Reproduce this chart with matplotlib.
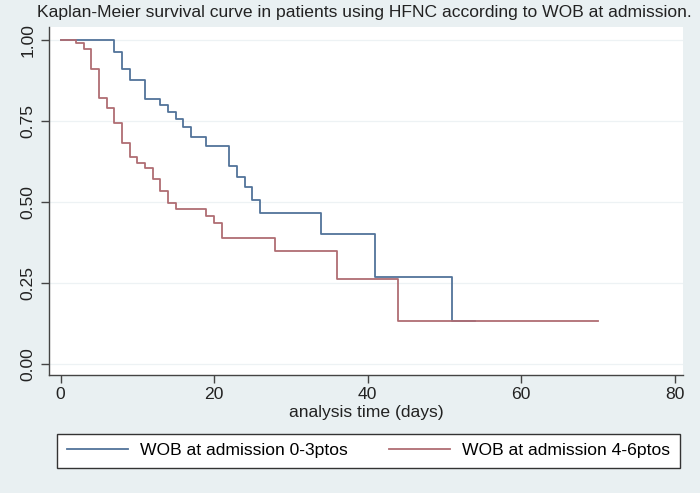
import matplotlib
matplotlib.use('Agg')
import matplotlib.pyplot as plt

# Kaplan-Meier curves
blue_t = [0, 7, 8, 9, 11, 13, 14, 15, 16, 17, 19, 22, 23, 24, 25, 26, 34, 41, 51, 54]
blue_s = [1.0, 0.964, 0.909, 0.875, 0.818, 0.799, 0.779, 0.755, 0.730, 0.702,
          0.673, 0.611, 0.578, 0.547, 0.506, 0.467, 0.400, 0.267, 0.133, 0.133]

red_t = [0, 2, 3, 4, 5, 6, 7, 8, 9, 10, 11, 12, 13, 14, 15, 19, 20, 21, 28, 36, 44, 70]
red_s = [1.0, 0.990, 0.971, 0.909, 0.820, 0.789, 0.745, 0.683, 0.640, 0.621, 0.604,
         0.570, 0.535, 0.498, 0.477, 0.457, 0.436, 0.388, 0.350, 0.261, 0.133, 0.133]

labels = ['WOB at admission 0-3ptos', 'WOB at admission 4-6ptos']
x_ticks = [0, 20, 40, 60, 80]
y_ticks = [0.0, 0.25, 0.5, 0.75, 1.0]
y_ticklabels = ['0.00', '0.25', '0.50', '0.75', '1.00']

plt.rcParams['font.family'] = ['Liberation Sans', 'DejaVu Sans']
fs = 12.6

fig = plt.figure(figsize=(7, 4.93), dpi=100)
fig.patch.set_facecolor('#e9f0f2')
ax = fig.add_axes([49 / 700, 1 - 375 / 493, (683 - 49) / 700, (375 - 27) / 493])
ax.set_facecolor('white')

ax.step(blue_t, blue_s, where='post', color='#52739a', lw=1.3, label=labels[0])
ax.step(red_t, red_s, where='post', color='#b06d73', lw=1.3, label=labels[1])

ax.set_xlim(-1.5, 81.1)
ax.set_ylim(-0.034, 1.040)
ax.set_xticks(x_ticks)
ax.set_yticks(y_ticks)
ax.set_yticklabels(y_ticklabels, rotation=90, va='center')
ax.grid(axis='y', color='#edf2f4', lw=0.9)
ax.set_axisbelow(True)

for s in ['top', 'right']:
    ax.spines[s].set_visible(False)
for s in ['left', 'bottom']:
    ax.spines[s].set_color('#444444')
    ax.spines[s].set_linewidth(1.0)
ax.tick_params(direction='out', length=5.5, width=1.0, color='#444444',
               labelsize=fs, labelcolor='#222222', pad=3)
ax.tick_params(axis='y', pad=4)
ax.set_xlabel('analysis time (days)', fontsize=fs, color='#222222', labelpad=2)

fig.text(37 / 700, 1 - 12 / 493, 'Kaplan-Meier survival curve in patients using HFNC according to WOB at admission.',
         fontsize=fs, color='#222222', ha='left', va='center')

leg = fig.legend(loc='lower left', bbox_to_anchor=(57 / 700, 1 - 468 / 493, 623 / 700, 39 / 493),
                 mode='expand', ncol=2, fontsize=fs, frameon=True, fancybox=False,
                 edgecolor='#333333', facecolor='white', framealpha=1,
                 handlelength=3.5, handletextpad=0.7, borderaxespad=0, borderpad=0.55)
leg.get_frame().set_linewidth(1.0)

fig.savefig('out.png', dpi=100, facecolor=fig.get_facecolor())
